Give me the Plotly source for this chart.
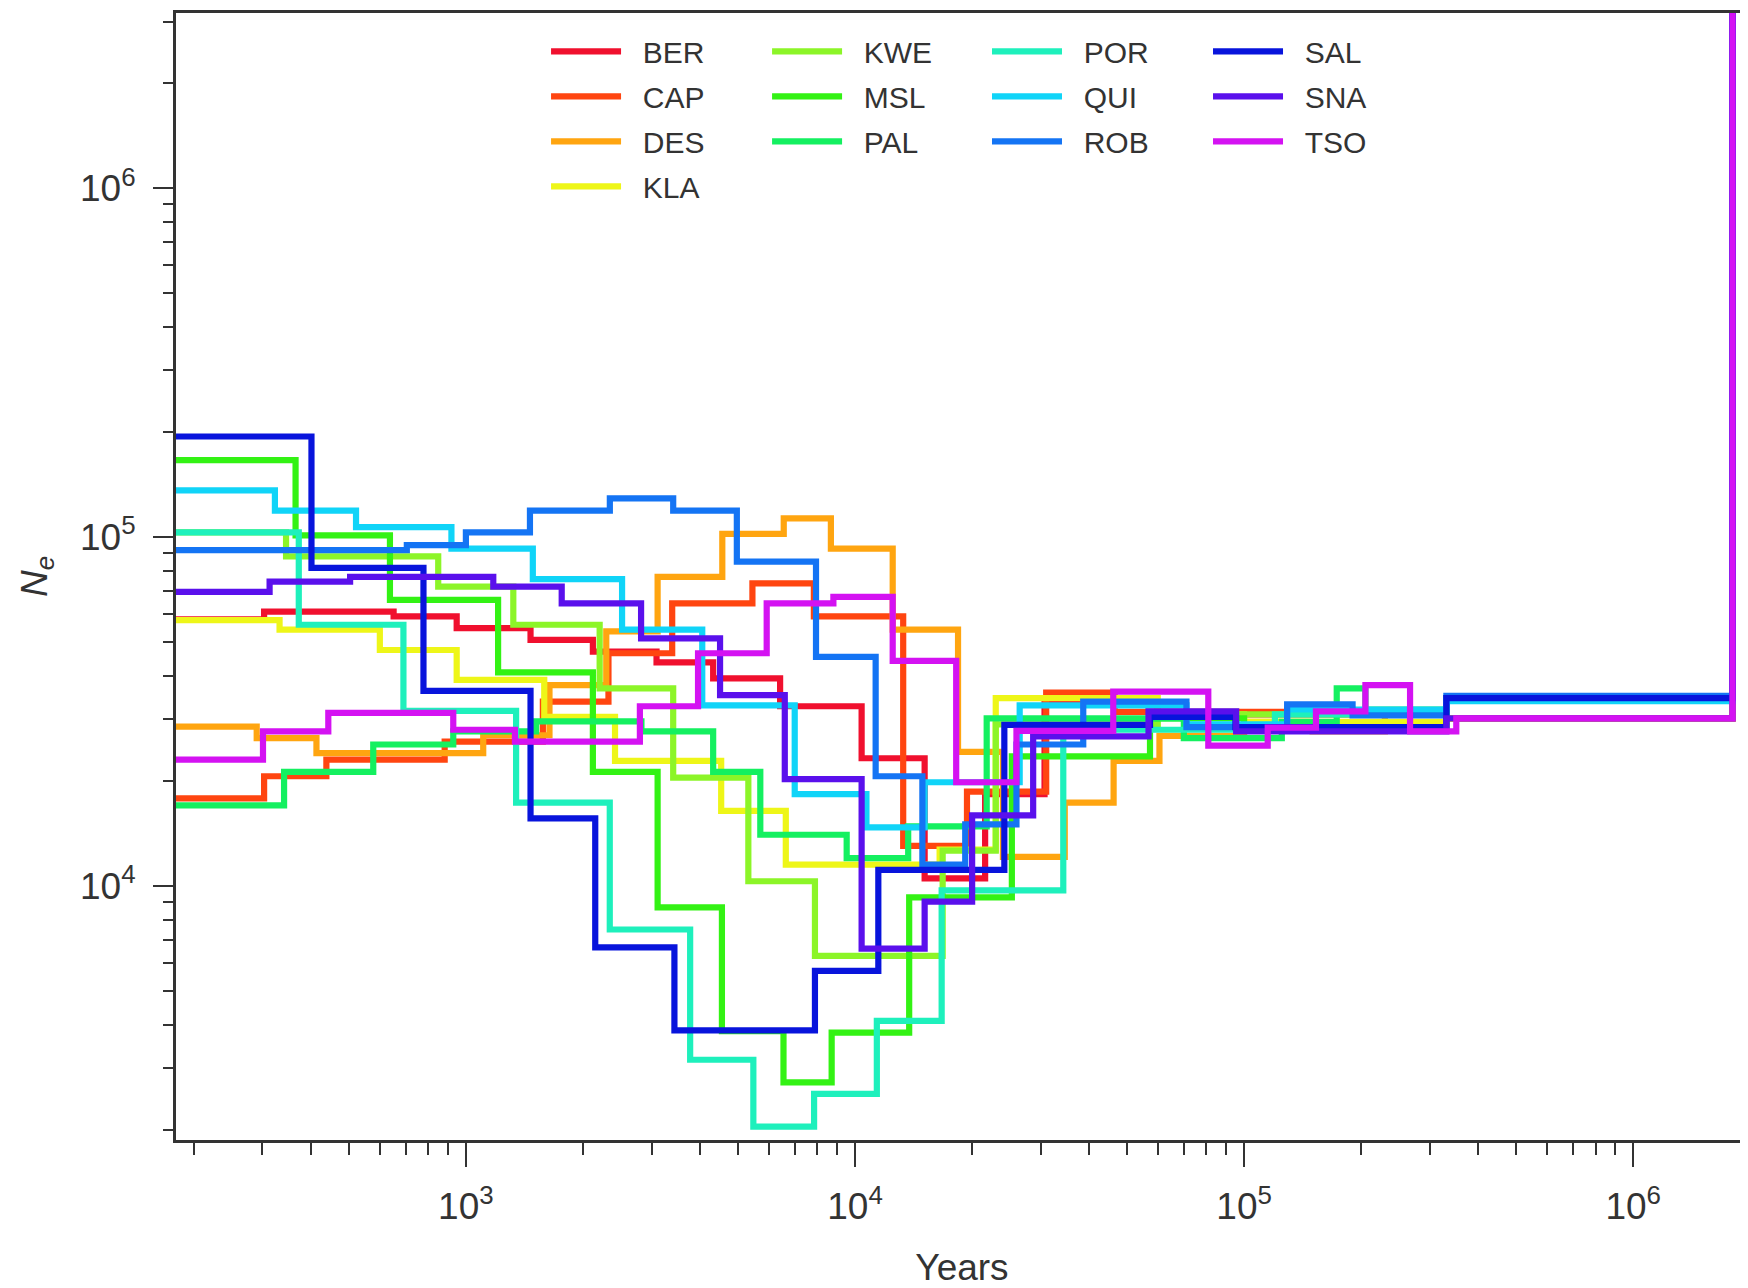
import plotly.graph_objects as go

# ---- data: step start times (years) and effective population size (Ne) ----
BER_x = [150, 303, 652, 947, 1466, 2120, 3090, 4320, 6420, 10400, 15100, 21600, 30700, 60000, 331000, 1800000]
BER_y = [58000, 61100, 59200, 54800, 50700, 46900, 43700, 39300, 32700, 23200, 10500, 18300, 33500, 31000, 30200, 8e6]

CAP_x = [150, 303, 438, 882, 1577, 2325, 3390, 5450, 7840, 13300, 19400, 31000, 46500, 331000, 1800000]
CAP_y = [17800, 20600, 23000, 25900, 33700, 46400, 64500, 73600, 59200, 13000, 18600, 35800, 31500, 30200, 8e6]

DES_x = [150, 290, 413, 1108, 1640, 2295, 3110, 4560, 6560, 8670, 12500, 18400, 24000, 34600, 46200, 60600, 100000, 150000, 230000, 331000, 1800000]
DES_y = [28600, 26500, 24000, 27000, 37600, 53600, 76800, 102000, 113000, 92600, 54200, 24200, 12100, 17300, 22800, 26900, 29500, 27700, 31500, 30200, 8e6]

KLA_x = [150, 332, 601, 947, 1590, 2417, 4530, 6640, 16500, 23000, 60000, 100000, 331000, 1800000]
KLA_y = [57700, 54200, 47400, 38900, 30500, 22800, 16400, 11500, 12700, 34500, 31000, 29500, 30200, 8e6]

KWE_x = [150, 345, 849, 1324, 2207, 3410, 5320, 7890, 16800, 23000, 60000, 331000, 1800000]
KWE_y = [103000, 88000, 72000, 56000, 36800, 20400, 10300, 6290, 12600, 29000, 31000, 34500, 8e6]

MSL_x = [150, 365, 638, 1210, 2120, 3110, 4550, 6550, 8710, 13780, 25300, 57300, 100000, 331000, 1800000]
MSL_y = [166000, 101000, 66000, 40900, 21200, 8670, 3830, 2730, 3790, 9260, 23500, 30200, 28000, 34500, 8e6]

PAL_x = [150, 341, 578, 928, 1515, 2826, 4320, 5710, 9520, 13700, 21800, 70000, 125000, 173000, 205000, 331000, 1800000]
PAL_y = [17000, 21200, 25400, 27700, 29600, 27700, 21200, 14000, 12000, 14800, 30200, 26500, 29500, 36800, 32000, 34500, 8e6]

POR_x = [150, 372, 691, 1346, 2343, 3770, 5480, 7850, 11380, 16700, 34300, 120000, 331000, 1800000]
POR_y = [103000, 56000, 31700, 17300, 7490, 3170, 2040, 2530, 4100, 9700, 28000, 31000, 34000, 8e6]

QUI_x = [150, 323, 522, 918, 1486, 2520, 4050, 7000, 10700, 15100, 26500, 71100, 129000, 331000, 1800000]
QUI_y = [136000, 119000, 106700, 92600, 75700, 54200, 32900, 18300, 14700, 19800, 32900, 29000, 32000, 33800, 8e6]

ROB_x = [150, 705, 1000, 1461, 2344, 3410, 4970, 7940, 11300, 14900, 19200, 26000, 38600, 71100, 129000, 190000, 331000, 1800000]
ROB_y = [91700, 94700, 103000, 119000, 129000, 119000, 84900, 45300, 20600, 11500, 15000, 25400, 33700, 28500, 33100, 30800, 35000, 8e6]

SAL_x = [150, 401, 778, 1466, 2150, 3435, 7890, 11480, 24200, 57300, 95000, 331000, 1800000]
SAL_y = [194000, 81500, 36200, 15600, 6660, 3850, 5700, 11100, 28900, 30500, 28500, 34500, 8e6]

SNA_x = [150, 313, 504, 1176, 1763, 2820, 4500, 6600, 10400, 15100, 20000, 28700, 56800, 95400, 331000, 1800000]
SNA_y = [69600, 74400, 76800, 72000, 64500, 51200, 35200, 20200, 6600, 9000, 15900, 26800, 31600, 27700, 30200, 8e6]

TSO_x = [150, 301, 443, 928, 1337, 2800, 3950, 5930, 8800, 12500, 18200, 26000, 46100, 80900, 115000, 153000, 205000, 267000, 351000, 1800000]
TSO_y = [23000, 27700, 31300, 28000, 25900, 32700, 46400, 64500, 67300, 44100, 19800, 27800, 36000, 25200, 28400, 31600, 37600, 27700, 30200, 8e6]

names = ["BER", "CAP", "DES", "KLA", "KWE", "MSL", "PAL", "POR", "QUI", "ROB", "SAL", "SNA", "TSO"]
xs = [BER_x, CAP_x, DES_x, KLA_x, KWE_x, MSL_x, PAL_x, POR_x, QUI_x, ROB_x, SAL_x, SNA_x, TSO_x]
ys = [BER_y, CAP_y, DES_y, KLA_y, KWE_y, MSL_y, PAL_y, POR_y, QUI_y, ROB_y, SAL_y, SNA_y, TSO_y]
colors = ["#f0102e", "#ff4510", "#ffa510", "#eef618", "#8cf528", "#33f214", "#14f060",
          "#1ef0bc", "#10d4f8", "#1474f4", "#0814dc", "#5a10ec", "#d412f2"]
legend_ids = ["legend"] * 4 + ["legend2"] * 3 + ["legend3"] * 3 + ["legend4"] * 3

x_tick_vals = [1e3, 1e4, 1e5, 1e6]
x_tick_text = ["10<sup>3</sup>", "10<sup>4</sup>", "10<sup>5</sup>", "10<sup>6</sup>"]
y_tick_vals = [1e4, 1e5, 1e6]
y_tick_text = ["10<sup>4</sup>", "10<sup>5</sup>", "10<sup>6</sup>"]

FONT = "Liberation Sans, Arial, sans-serif"
INK = "#333333"

fig = go.Figure()
for n, x, y, c, lg in zip(names, xs, ys, colors, legend_ids):
    fig.add_trace(go.Scatter(x=x, y=y, name="\u00a0\u00a0" + n, mode="lines",
                             line=dict(color=c, width=6.2, shape="hv"),
                             legend=lg, legendgroup=n))

x_minor = [m * 10 ** e for e in range(2, 7) for m in range(2, 10)]
y_minor = [m * 10 ** e for e in range(3, 7) for m in range(2, 10)]

# the page body adds an 8 px offset, so the figure is 8 px smaller and margins compensate
legend_common = dict(bgcolor="rgba(0,0,0,0)", borderwidth=0, font=dict(family=FONT, size=30, color=INK),
                     itemwidth=70, tracegroupgap=3, yanchor="top", xanchor="left", orientation="v")
fig.update_layout(
    width=1740, height=1280,
    margin=dict(l=168, r=0, t=5, b=145),
    paper_bgcolor="white", plot_bgcolor="white",
    font=dict(family=FONT, size=37, color=INK),
    legend=dict(x=0.2354, y=0.989, **legend_common),
    legend2=dict(x=0.3760, y=0.989, **legend_common),
    legend3=dict(x=0.5159, y=0.989, **legend_common),
    legend4=dict(x=0.6565, y=0.989, **legend_common),
)
fig.update_xaxes(type="log", range=[2.255, 6.295], tickvals=x_tick_vals, ticktext=x_tick_text,
                 showgrid=False, zeroline=False, showline=True, linecolor=INK, linewidth=3, mirror=True,
                 ticks="outside", ticklen=24, tickwidth=2, tickcolor=INK, ticklabelstandoff=8,
                 tickfont=dict(family=FONT, size=37, color=INK),
                 minor=dict(tickvals=x_minor, ticks="outside", ticklen=12, tickwidth=1.5, tickcolor=INK, showgrid=False),
                 title=dict(text="Years", font=dict(family=FONT, size=37, color=INK), standoff=35))
fig.update_yaxes(type="log", range=[3.271, 6.502], tickvals=y_tick_vals, ticktext=y_tick_text,
                 showgrid=False, zeroline=False, showline=True, linecolor=INK, linewidth=3, mirror=False,
                 ticks="outside", ticklen=20, tickwidth=2, tickcolor=INK, ticklabelstandoff=10,
                 tickfont=dict(family=FONT, size=37, color=INK),
                 minor=dict(tickvals=y_minor, ticks="outside", ticklen=10, tickwidth=1.5, tickcolor=INK, showgrid=False),
                 title=dict(text="<i>N<sub>e</sub></i>", font=dict(family=FONT, size=37, color=INK), standoff=22))

fig.write_html("out.html")
